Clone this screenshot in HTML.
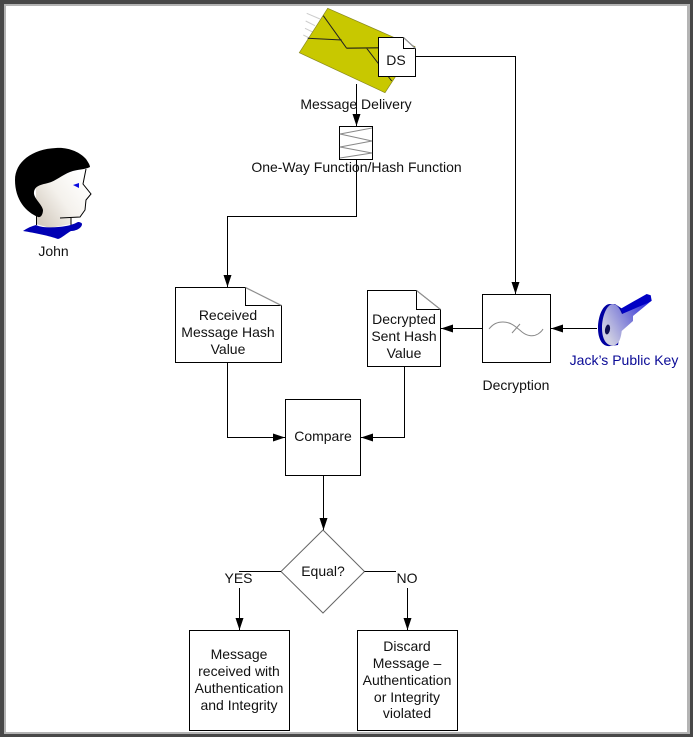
<!DOCTYPE html>
<html><head><meta charset="utf-8"><style>
html,body{margin:0;padding:0;background:#fff}
svg{display:block}
text{font-family:"Liberation Sans",sans-serif;font-size:14px;fill:#111;text-anchor:middle}
</style></head><body>
<svg width="693" height="739" viewBox="0 0 693 739" xmlns="http://www.w3.org/2000/svg">
<defs>
<marker id="a" markerWidth="13" markerHeight="9" refX="12" refY="4" orient="auto" markerUnits="userSpaceOnUse"><path d="M0 0L12 4L0 8z" fill="#000"/></marker>
<linearGradient id="face" gradientUnits="userSpaceOnUse" x1="36" y1="215" x2="85" y2="180"><stop offset="0" stop-color="#d4ccc0"/><stop offset="0.5" stop-color="#f4f1ec"/><stop offset="1" stop-color="#fff"/></linearGradient>
<linearGradient id="key" gradientUnits="userSpaceOnUse" x1="604" y1="330" x2="650" y2="305"><stop offset="0" stop-color="#cfcfe2"/><stop offset="0.55" stop-color="#7878d8"/><stop offset="1" stop-color="#2a2ae0"/></linearGradient>
</defs>
<rect width="693" height="739" fill="#fff"/>
<rect x="0" y="0" width="693" height="737" fill="#484848"/>
<rect x="4" y="4" width="686" height="730" fill="#b4b4b4"/>
<rect x="6" y="6" width="681" height="726" fill="#fff"/>

<!-- envelope -->
<g stroke="#ccc" stroke-width="1"><path d="M306.700 13.300L320 19M305.700 21L315 25.700M305 28.300L313.300 32.300M303.300 35L310 38.300"/></g>
<path d="M327.700 8.300L415 46.700L385 92.700L299.300 52.700z" fill="#c8c800" stroke="#8a8a20" stroke-width="0.7"/>
<path d="M323.300 15.700L346.700 48.300M307.700 38.300L341.700 40M366.700 48.300L391.700 81" fill="none" stroke="#222" stroke-width="1"/>
<path d="M346.700 48.300L378.300 47.700" fill="none" stroke="#4a4a10" stroke-width="1.500"/>
<!-- DS -->
<path d="M378.500 37.500H403.500L415.500 48.500V76.500H378.500z" fill="#fff" stroke="#000"/>
<path d="M403.500 37.500V48.500H415.500" fill="none" stroke="#000"/>
<path d="M403.500 37.500L415.500 48.500" fill="none" stroke="#999"/>
<text x="396" y="65">DS</text>
<path d="M356.500 84V126" fill="none" stroke="#000" marker-end="url(#a)"/>
<text x="356" y="109">Message Delivery</text>

<!-- hash -->
<rect x="339.500" y="126.500" width="33" height="33" fill="#fff" stroke="#000"/>
<path d="M372 128L340 134L372 141L340 147L372 153L340 158" fill="none" stroke="#888"/>
<path d="M356.500 159V216.500H227.500V287" fill="none" stroke="#000" marker-end="url(#a)"/>
<text x="356.500" y="172">One-Way Function/Hash Function</text>

<!-- John -->
<path d="M36 224V185L51 178L86 168L83 184L91 194L86 200L85 210L80 217L71 218V224L50 228z" fill="url(#face)"/>
<path d="M86 169L83 184L91 194L86 200L85 210L80 217L60 218M71 218V225M36.500 212V225" fill="none" stroke="#000"/>
<path d="M23 231C27 228 32 226 36 225C42 228 55 228 66 226C72 225 76 223 78 222C80 222 82 223 82 224C82 228 76 231 71 231C67 233 62 238 58 239C50 236 35 233 23 231z" fill="#0000b4"/>
<path d="M73 185L79 183V188z" fill="#0a0ae0"/>
<path d="M56 148C68 147 80 152 86 159C88 162 90 165 90 167C84 170 78 169 70 172C62 175 56 181 48 183C40 185 35 186 34 192C33 198 42 204 43 210C43 214 41 218 38 217C26 212 15 200 15 180C15 162 32 149 56 148z" fill="#000"/>
<text x="53.500" y="256">John</text>

<!-- received -->
<path d="M175.500 287.500H245.500L281.500 305.500V362.500H175.500z" fill="#fff" stroke="#000"/>
<path d="M245.500 287.500V305.500H281.500" fill="none" stroke="#000"/>
<path d="M245.500 287.500L281.500 305.500" fill="none" stroke="#999"/>
<text x="228" y="320">Received</text>
<text x="228" y="337">Message Hash</text>
<text x="228" y="354">Value</text>

<!-- decrypted -->
<path d="M367.500 290.500H416.500L440.500 309.500V366.500H367.500z" fill="#fff" stroke="#000"/>
<path d="M416.500 290.500V309.500H440.500" fill="none" stroke="#000"/>
<path d="M416.500 290.500L440.500 309.500" fill="none" stroke="#999"/>
<text x="404" y="324">Decrypted</text>
<text x="404" y="341">Sent Hash</text>
<text x="404" y="358">Value</text>

<!-- decryption -->
<path d="M416 56.500H515.500V294" fill="none" stroke="#000" marker-end="url(#a)"/>
<rect x="482.500" y="294.500" width="68" height="68" fill="#fff" stroke="#000"/>
<path d="M489 329C493 324 497 322 503 322C512 322 517 328 522 332C527 336 533 337 538 334C541 332 542 331 543 329M512 333L520 324" fill="none" stroke="#888"/>
<path d="M482 328.500H441" fill="none" stroke="#000" marker-end="url(#a)"/>
<path d="M597 328.500H551" fill="none" stroke="#000" marker-end="url(#a)"/>
<text x="516" y="390">Decryption</text>

<!-- key -->
<path d="M610 304C603 304 598 316 598 328C598 340 603 347 610 346L618 345L624 310L615 304z" fill="#0000a0"/>
<path d="M620.700 308.700L646.700 294L650.700 295.300L651.700 300.700L650 302L624 316z" fill="#0000c4"/>
<path d="M613 304C607 304 602 316 602 328C602 340 607 346 613 345.500C619 345 621 338 621.700 331L633 321V316L650 302L622 314C620 309 617 304 613 304z" fill="url(#key)"/>
<ellipse cx="607.500" cy="329.500" rx="2.500" ry="5" fill="#101050" transform="rotate(10 607.500 329.500)"/>
<text x="624" y="365" style="fill:#0a0a96">Jack’s Public Key</text>

<!-- compare -->
<path d="M227.500 362V437.500H285" fill="none" stroke="#000" marker-end="url(#a)"/>
<path d="M404.500 366V437.500H361" fill="none" stroke="#000" marker-end="url(#a)"/>
<rect x="285.500" y="399.500" width="75" height="76" fill="#fff" stroke="#000"/>
<text x="323" y="441">Compare</text>

<!-- equal -->
<path d="M323.500 476V530" fill="none" stroke="#000" marker-end="url(#a)"/>
<path d="M323 530L364.500 571.500L323 613L281 571.500z" fill="#fff" stroke="#666"/>
<text x="323" y="576">Equal?</text>
<path d="M281 571.500H239.500V572M239.500 588V630" fill="none" stroke="#000" marker-end="url(#a)"/>
<path d="M364.500 571.500H396M407.500 588V630" fill="none" stroke="#000" marker-end="url(#a)"/>
<text x="238.500" y="583">YES</text>
<text x="407" y="583">NO</text>

<rect x="189.500" y="630.500" width="100" height="100" fill="#fff" stroke="#000"/>
<text x="239" y="659">Message</text>
<text x="239" y="676">received with</text>
<text x="239" y="693">Authentication</text>
<text x="239" y="710">and Integrity</text>
<rect x="357.500" y="630.500" width="100" height="100" fill="#fff" stroke="#000"/>
<text x="407" y="651">Discard</text>
<text x="407" y="668">Message –</text>
<text x="407" y="685">Authentication</text>
<text x="407" y="702">or Integrity</text>
<text x="407" y="718">violated</text>
</svg>
</body></html>
